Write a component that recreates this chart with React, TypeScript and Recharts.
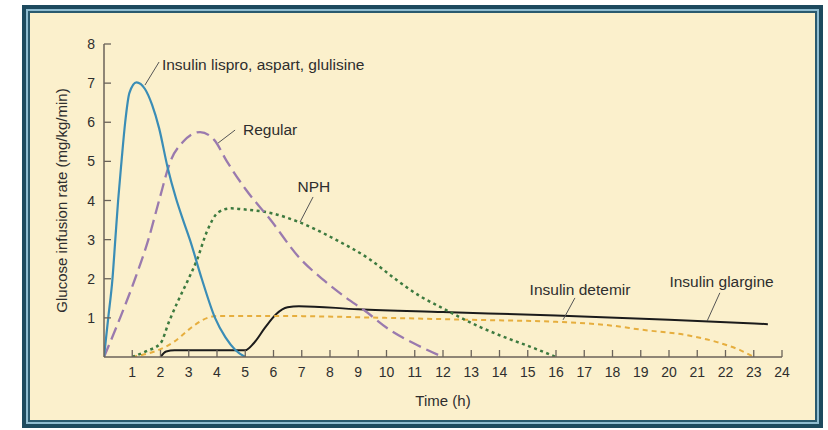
import React from "react";
import {
  LineChart,
  Line,
  XAxis,
  YAxis,
  ReferenceLine,
  ReferenceDot,
  Label,
} from "recharts";

// glucose infusion rate (mg/kg/min) against time (h)
const LISPRO = [
  [0, 0], [0.15, 1], [0.3, 2], [0.4, 3], [0.5, 4], [0.62, 5], [0.75, 6], [0.9, 6.75],
  [1.15, 7.02], [1.45, 6.85], [1.7, 6.45], [1.95, 5.85], [2.25, 4.85], [2.55, 4.05],
  [2.8, 3.5], [3.04, 3.0], [3.46, 2.0], [3.93, 1.0], [4.3, 0.5], [4.65, 0.18], [5, 0],
];
const REGULAR = [
  [0, 0], [0.57, 1], [1.1, 2], [1.57, 3], [1.95, 4], [2.35, 5], [2.8, 5.5], [3.4, 5.75],
  [3.9, 5.55], [4.35, 5.0], [5.0, 4.3], [5.9, 3.5], [6.9, 2.55], [7.8, 1.95], [8.6, 1.5],
  [9.2, 1.2], [10.1, 0.7], [11.1, 0.3], [12, 0],
];
const NPH = [
  [1, 0], [1.5, 0.15], [2, 0.35], [2.3, 0.9], [2.6, 1.4], [2.93, 1.9], [3.3, 2.5],
  [3.64, 3.2], [4.05, 3.7], [4.5, 3.8], [5, 3.77], [5.9, 3.68], [6.9, 3.45], [8.2, 3.0],
  [9.4, 2.5], [10.3, 2.0], [11.2, 1.55], [11.9, 1.28], [13.3, 0.77], [14.2, 0.5],
  [15.1, 0.26], [16, 0],
];
const DETEMIR = [
  [1, 0], [1.5, 0.08], [2, 0.2], [2.5, 0.4], [3, 0.7], [3.5, 0.95], [4, 1.05], [6, 1.05],
  [10, 1.0], [13, 0.95], [16, 0.9], [18, 0.8], [19, 0.7], [20.7, 0.55], [21.7, 0.38],
  [22.5, 0.18], [23, 0],
];
const GLARGINE = [
  [2, 0], [2.2, 0.14], [2.5, 0.17], [5, 0.17], [5.3, 0.35], [5.7, 0.75], [6.1, 1.1],
  [6.5, 1.27], [6.9, 1.3], [9, 1.22], [12, 1.15], [16, 1.06], [20, 0.95], [23.5, 0.84],
];

const X_TICKS = [1, 2, 3, 4, 5, 6, 7, 8, 9, 10, 11, 12, 13, 14, 15, 16, 17, 18, 19, 20, 21, 22, 23, 24];
const Y_TICKS = [1, 2, 3, 4, 5, 6, 7, 8];

// callouts: text anchor point and leader line, in data units
const CALLOUTS = [
  { text: "Insulin lispro, aspart, glulisine", at: [2.05, 7.46], anchor: "start", from: [1.45, 6.95], to: [1.95, 7.54] },
  { text: "Regular", at: [4.92, 5.8], anchor: "start", from: [4.04, 5.47], to: [4.64, 5.8] },
  { text: "NPH", at: [7.43, 4.35], anchor: "middle", from: [7.4, 4.09], to: [6.94, 3.45] },
  { text: "Insulin detemir", at: [16.85, 1.71], anchor: "middle", from: [16.67, 1.51], to: [16.25, 0.95] },
  { text: "Insulin glargine", at: [21.86, 1.92], anchor: "middle", from: [21.8, 1.64], to: [21.35, 0.92] },
];

const toRows = (pts: number[][]) => pts.map(([t, v]) => ({ t, v }));

const BG = "#fbf0cc";
const AXIS = "#6b635a";
const INK = "#2e2e2e";
const FONT = "'Liberation Sans', Arial, sans-serif";

function XTick({ x, y, payload }: any) {
  return (
    <g>
      <line x1={x} x2={x} y1={y} y2={y - 7} stroke={AXIS} strokeWidth={1.3} />
      <text x={x} y={y + 20} textAnchor="middle" fontSize={14} fill={INK} fontFamily={FONT}>
        {payload.value}
      </text>
    </g>
  );
}

function YTick({ x, y, payload }: any) {
  return (
    <g>
      <line x1={x} x2={x + 7} y1={y} y2={y} stroke={AXIS} strokeWidth={1.3} />
      <text x={x - 9} y={y + 5} textAnchor="end" fontSize={14} fill={INK} fontFamily={FONT}>
        {payload.value}
      </text>
    </g>
  );
}

function CalloutText({ viewBox, value, anchor }: any) {
  const { x, y } = viewBox;
  return (
    <text x={x} y={y + 5} textAnchor={anchor} fontSize={15.5} fill={INK} fontFamily={FONT}>
      {value}
    </text>
  );
}

export default function App() {
  return (
    <div style={{ position: "absolute", left: 0, top: 0, width: 828, height: 430, background: "#fff" }}>
      <div
        style={{
          position: "absolute",
          left: 22,
          top: 5,
          width: 801,
          height: 423,
          boxSizing: "border-box",
          border: "4px solid #1d4a5e",
          background: "#8fbcd0",
          padding: 2,
        }}
      >
        <div
          style={{
            width: "100%",
            height: "100%",
            boxSizing: "border-box",
            border: "2px solid #2a5a6e",
            background: BG,
          }}
        />
      </div>
      <div style={{ position: "absolute", left: 0, top: 0 }}>
        <LineChart
          width={828}
          height={430}
          margin={{ top: 44, right: 46, bottom: 23, left: 54 }}
          style={{ fontFamily: FONT }}
        >
          <XAxis
            type="number"
            dataKey="t"
            domain={[0, 24]}
            ticks={X_TICKS}
            allowDataOverflow
            height={50}
            tickSize={0}
            tickMargin={0}
            tickLine={false}
            axisLine={{ stroke: AXIS, strokeWidth: 1.5 }}
            tick={<XTick />}
            interval={0}
          >
            <Label value="Time (h)" position="insideBottom" offset={1} fontSize={15} fill={INK} fontFamily={FONT} />
          </XAxis>
          <YAxis
            type="number"
            dataKey="v"
            domain={[0, 8]}
            ticks={Y_TICKS}
            allowDataOverflow
            width={50}
            tickSize={0}
            tickMargin={0}
            tickLine={false}
            axisLine={{ stroke: AXIS, strokeWidth: 1.5 }}
            tick={<YTick />}
            interval={0}
          >
            <Label
              value="Glucose infusion rate (mg/kg/min)"
              position="center"
              angle={-90}
              dx={-17}
              fontSize={15}
              fill={INK}
              fontFamily={FONT}
            />
          </YAxis>

          <Line data={toRows(GLARGINE)} dataKey="v" type="monotone" stroke="#1b1b1b" strokeWidth={2} dot={false} activeDot={false} isAnimationActive={false} />
          <Line data={toRows(DETEMIR)} dataKey="v" type="monotone" stroke="#e6ae3e" strokeWidth={2} strokeDasharray="5 4" dot={false} activeDot={false} isAnimationActive={false} />
          <Line data={toRows(NPH)} dataKey="v" type="monotone" stroke="#3d7a3f" strokeWidth={2.5} strokeDasharray="3 3.5" dot={false} activeDot={false} isAnimationActive={false} />
          <Line data={toRows(REGULAR)} dataKey="v" type="monotone" stroke="#9a7aae" strokeWidth={2.3} strokeDasharray="13 6" dot={false} activeDot={false} isAnimationActive={false} />
          <Line data={toRows(LISPRO)} dataKey="v" type="monotone" stroke="#3a8db6" strokeWidth={2.2} dot={false} activeDot={false} isAnimationActive={false} />

          {CALLOUTS.map((c) => (
            <ReferenceLine
              key={c.text + "-leader"}
              segment={[{ x: c.from[0], y: c.from[1] }, { x: c.to[0], y: c.to[1] }]}
              stroke="#555"
              strokeWidth={1}
              ifOverflow="visible"
            />
          ))}
          {CALLOUTS.map((c) => (
            <ReferenceDot
              key={c.text}
              x={c.at[0]}
              y={c.at[1]}
              r={0}
              fill="none"
              stroke="none"
              ifOverflow="visible"
              label={<CalloutText value={c.text} anchor={c.anchor} />}
            />
          ))}
        </LineChart>
      </div>
    </div>
  );
}
